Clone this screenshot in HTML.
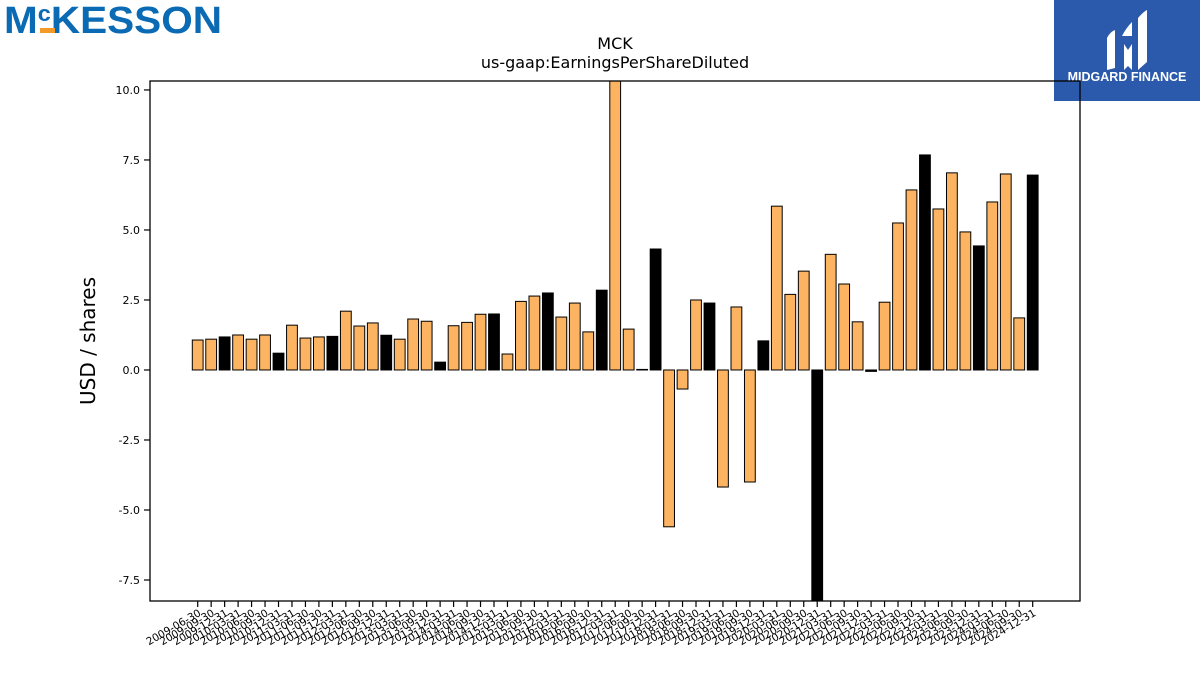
<!DOCTYPE html>
<html><head><meta charset="utf-8"><style>
body{margin:0;background:#fff;width:1200px;height:675px;overflow:hidden;font-family:"Liberation Sans","DejaVu Sans",sans-serif;}
</style></head><body>
<svg id="chart" width="1200" height="675" xmlns="http://www.w3.org/2000/svg" font-family="DejaVu Sans, Liberation Sans, sans-serif">
<g>
<text x="4" y="33" font-family="Liberation Sans, sans-serif" font-weight="bold" font-size="38" fill="#0a6ab3" textLength="218" lengthAdjust="spacingAndGlyphs">M<tspan font-size="22" dy="-12">c</tspan><tspan dy="12">KESSON</tspan></text>
<rect x="40" y="28" width="15" height="5" fill="#f39a2a"/>
</g>
<g>
<rect x="1054" y="0" width="146" height="101" fill="#2b5aac"/>
<path d="M1107 70 L1107 38 Q1110 32 1115 30 L1115 68 Z M1124 70 L1124 44 L1128 50 L1132 44 L1132 70 L1128 66 Z M1138 70 L1138 18 Q1143 12 1147 10 L1147 62 Z M1122 36 Q1126 28 1132 22 L1132 36 Z" fill="#fff"/>
<text x="1127" y="81" text-anchor="middle" font-family="Liberation Sans, sans-serif" font-weight="bold" font-size="12.5" fill="#fff">MIDGARD FINANCE</text>
</g>
<text x="615" y="49" text-anchor="middle" font-size="16">MCK</text>
<text x="615" y="68" text-anchor="middle" font-size="16">us-gaap:EarningsPerShareDiluted</text>
<text transform="translate(95,341) rotate(-90)" text-anchor="middle" font-size="20">USD / shares</text>
<g id="plot"></g>
</svg>
<script>
const periods = [];
(function(){const ends=["03-31","06-30","09-30","12-31"];let y=2009,q=1;for(let i=0;i<63;i++){periods.push(y+"-"+ends[q]);q++;if(q>3){q=0;y++;}}})();
const values = [1.07,1.1,1.18,1.25,1.1,1.25,0.6,1.6,1.14,1.18,1.2,2.1,1.57,1.68,1.24,1.1,1.82,1.74,0.28,1.58,1.7,1.99,2.0,0.57,2.45,2.64,2.75,1.89,2.39,1.36,2.85,10.6,1.46,0.02,4.32,-5.6,-0.68,2.5,2.39,-4.18,2.25,-4.0,1.04,5.85,2.7,3.53,-8.5,4.13,3.07,1.72,-0.05,2.42,5.25,6.43,7.68,5.75,7.04,4.93,4.43,6.0,7.0,1.86,6.96];
const yTicks = [-7.5,-5.0,-2.5,0.0,2.5,5.0,7.5,10.0];
const NS="http://www.w3.org/2000/svg";
const L=150,R=1080,T=81,B=601,yMin=-8.25,yMax=10.32;
const y=v=>B-(v-yMin)/(yMax-yMin)*(B-T);
const step=(R-L)/(periods.length+6.15);
const x=i=>197.7+i*((1032.7-197.7)/(periods.length-1));
const g=document.getElementById('plot');
function mk(t,a){const e=document.createElementNS(NS,t);for(const k in a)e.setAttribute(k,a[k]);g.appendChild(e);return e;}
const cp=mk('clipPath',{id:'clip'});const cr=document.createElementNS(NS,'rect');cr.setAttribute('x',L);cr.setAttribute('y',T);cr.setAttribute('width',R-L);cr.setAttribute('height',B-T);cp.appendChild(cr);
const bw=10.8;
values.forEach((v,i)=>{
 const top=Math.min(y(v),y(0)),h=Math.abs(y(v)-y(0));
 const black=periods[i].endsWith("12-31");
 const r=mk('rect',{x:x(i)-bw/2,y:top,width:bw,height:Math.max(h,0.5),fill:black?'#000':'#fdb462',stroke:'#000','stroke-width':1,'clip-path':'url(#clip)'});
 
 
 const tk=mk('line',{x1:x(i),x2:x(i),y1:B,y2:B+6,stroke:'#000','stroke-width':1.2});
 
 
 const lb=mk('text',{x:0,y:0,'font-size':10.5,'text-anchor':'end',transform:`translate(${x(i)+4},${B+14}) rotate(-30)`});
 lb.textContent=periods[i];
 
 
});
yTicks.forEach(t=>{
 const tk=mk('line',{x1:L-6,x2:L,y1:y(t),y2:y(t),stroke:'#000','stroke-width':1.2});
 
 
 const lb=mk('text',{x:L-10,y:y(t)+4,'font-size':11,'text-anchor':'end'});
 lb.textContent=t.toFixed(1);
 
 
});
const fr=mk('rect',{x:L,y:T,width:R-L,height:B-T,fill:'none',stroke:'#000','stroke-width':1.3});


</script>
</body></html>
